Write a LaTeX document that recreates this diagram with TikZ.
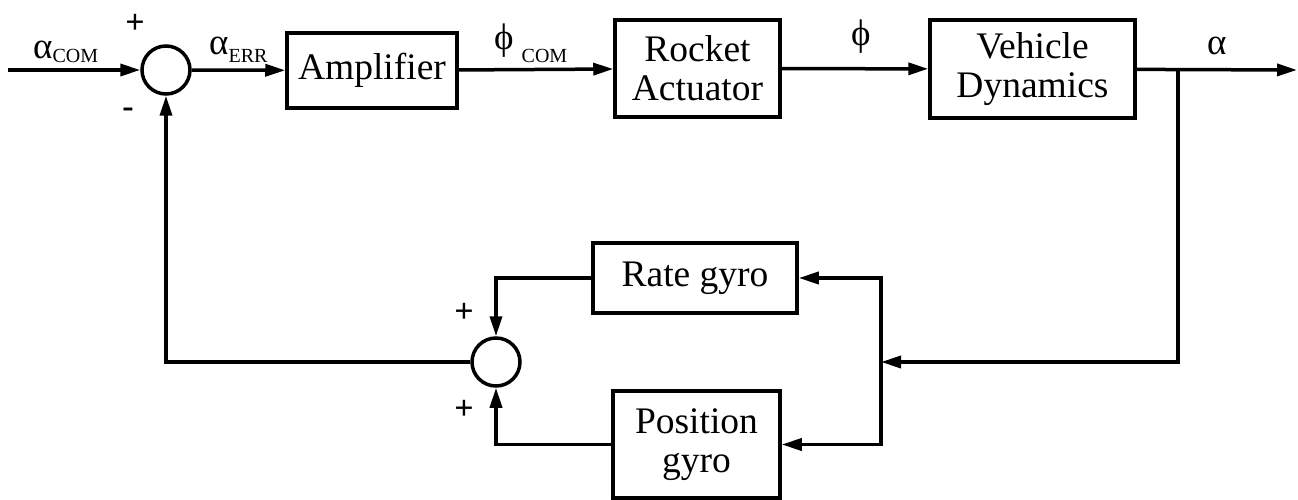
\documentclass[tikz,border=0pt]{standalone}
\usepackage{fontspec}
\setmainfont{Liberation Serif}
\usetikzlibrary{arrows.meta}
\newcommand{\subf}{\fontsize{20}{20}\selectfont}
\tikzset{
  blk/.style={draw, line width=3.5pt, inner sep=0pt, align=center,
    font=\fontsize{37.5}{39}\selectfont},
  sumc/.style={draw, circle, line width=3.5pt, minimum size=48pt, inner sep=0pt},
  conn/.style={line width=3.5pt, -{Triangle[length=20pt,width=12pt]}},
  lbl/.style={inner sep=0pt, font=\fontsize{37}{38}\selectfont},
  sgn/.style={inner sep=0pt, font=\fontsize{34}{36}\selectfont\bfseries},
}
\begin{document}
\begin{tikzpicture}[x=1pt,y=-1pt]
\useasboundingbox (0,0) rectangle (1298,500);
% blocks
\node[blk, minimum width=170pt, minimum height=75pt] (amp) at (372,70.5) {Amplifier};
\node[blk, minimum width=165pt, minimum height=97pt] (act) at (697.5,68.5) {Rocket\\Actuator};
\node[blk, minimum width=205pt, minimum height=98pt] (veh) at (1032.5,69) {Vehicle\\Dynamics};
\node[blk, minimum width=204pt, minimum height=70pt] (rate) at (695,278) {Rate gyro};
\node[blk, minimum width=167pt, minimum height=107pt] (pos) at (696.5,444.5) {Position\\gyro};
\node[sumc] (s1) at (166,70) {};
\node[sumc] (s2) at (496,362) {};
% coordinates
\coordinate (in) at (8,70);
\coordinate (out) at (1297,70);
\coordinate (br) at (1178,70);
\coordinate (fb) at (1178,362);
\coordinate (rj) at (881,362);
% connectors
\draw[conn] (in) -- (s1);
\draw[conn] (s1) -- (amp);
\draw[conn] (amp) -- (act);
\draw[conn] (act) -- (veh);
\draw[conn] (veh) -- (out);
\draw[conn] (br) -- (fb) -- (rj);
\draw[conn] (rj) |- (rate);
\draw[conn] (rj) |- (pos);
\draw[conn] (rate) -| (s2);
\draw[conn] (pos) -| (s2);
\draw[conn] (s2) -| (s1);
% labels
\node[lbl, anchor=base west] (lacom) at (33,59) {α\raisebox{-4pt}{\subf COM}};
\node[lbl, anchor=base west] (laerr) at (209,55) {α\raisebox{-8pt}{\subf ERR}};
\node[lbl, anchor=base west] (lpcom) at (494,50) {ϕ\hspace{8pt}\raisebox{-13pt}{\subf COM}};
\node[lbl, anchor=base west] (lphi) at (851,46) {ϕ};
\node[lbl, anchor=base west] (lalpha) at (1207,55) {α};
\node[sgn] (p1) at (135,24) {+};
\node[sgn] (m1) at (128,113) {-};
\node[sgn] (p2) at (464,313) {+};
\node[sgn] (p3) at (464,410) {+};
\end{tikzpicture}
\end{document}
